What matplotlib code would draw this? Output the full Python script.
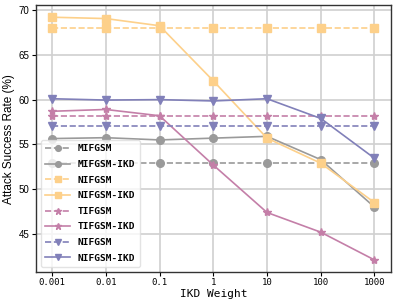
import matplotlib
matplotlib.use("Agg")
import matplotlib.pyplot as plt

weights = ["0.001", "0.01", "0.1", "1", "10", "100", "1000"]
mifgsm = [52.9] * 7
mifgsm_ikd = [55.65, 55.75, 55.5, 55.7, 55.9, 53.3, 48.0]
nifgsm = [68.0] * 7
nifgsm_ikd = [69.2, 69.05, 68.25, 62.1, 55.7, 52.9, 48.5]
tifgsm = [58.2] * 7
tifgsm_ikd = [58.7, 58.9, 58.2, 52.7, 47.4, 45.2, 42.1]
nifgsm2 = [57.0] * 7
nifgsm2_ikd = [60.1, 59.95, 60.0, 59.85, 60.1, 57.9, 53.45]

gray = "#9a9a9a"
yellow = "#fdd08a"
pink = "#c47fa8"
purple = "#8180b9"

mono = "DejaVu Sans Mono"
sans = "Liberation Sans"

fig = plt.figure(figsize=(3.99, 2.99), dpi=100)
ax = fig.add_axes([0.090, 0.090, 0.889, 0.893])
x = list(range(len(weights)))

series = [
    ("MIFGSM", mifgsm, gray, "o", "--"),
    ("MIFGSM-IKD", mifgsm_ikd, gray, "o", "-"),
    ("NIFGSM", nifgsm, yellow, "s", "--"),
    ("NIFGSM-IKD", nifgsm_ikd, yellow, "s", "-"),
    ("TIFGSM", tifgsm, pink, "*", "--"),
    ("TIFGSM-IKD", tifgsm_ikd, pink, "*", "-"),
    ("NIFGSM", nifgsm2, purple, "v", "--"),
    ("NIFGSM-IKD", nifgsm2_ikd, purple, "v", "-"),
]
for label, vals, c, m, ls in series:
    ax.plot(x, vals, color=c, marker=m, linestyle=ls, linewidth=1.2,
            markersize=5.5 if m != "*" else 6, label=label)

ax.set_xticks(x)
ax.set_xticklabels(weights, fontfamily=mono, fontsize=6.5)
ax.set_yticks([45, 50, 55, 60, 65, 70])
for t in ax.get_yticklabels():
    t.set_fontfamily(sans)
    t.set_fontsize(7)
ax.set_xlabel("IKD Weight", fontfamily=mono, fontsize=8, labelpad=1)
ax.set_ylabel("Attack Success Rate (%)", fontfamily=sans, fontsize=8.5, labelpad=3)
ax.grid(True, color="#d0d0d0", linewidth=1.2)
ax.set_axisbelow(True)
ax.tick_params(axis="both", length=3, width=0.8, pad=1.5)
for s in ax.spines.values():
    s.set_color("#333333")
    s.set_linewidth(1.0)

leg = ax.legend(loc="lower left", prop={"family": mono, "size": 6.8, "weight": "bold"},
                handlelength=2.6, labelspacing=0.7, borderpad=0.5, markerscale=0.75,
                framealpha=0.8, edgecolor="#dddddd", fancybox=True)

fig.savefig("out.png", dpi=100)
